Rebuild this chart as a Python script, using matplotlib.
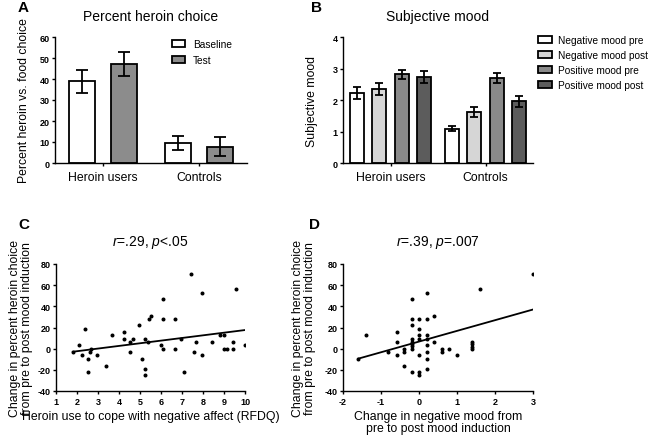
import numpy as np
import matplotlib
matplotlib.use("Agg")
import matplotlib.pyplot as plt
from matplotlib.patches import Patch

plt.rcParams['font.family'] = ['Liberation Sans', 'DejaVu Sans']
plt.rcParams['mathtext.fontset'] = 'custom'
plt.rcParams['mathtext.rm'] = 'Liberation Sans'
plt.rcParams['mathtext.it'] = 'Liberation Sans:italic'

# ---- data ----
groups = ['Heroin users', 'Controls']

# A: percent heroin choice
choice_labels = ['Baseline', 'Test']
choice_mean = [[39.0, 9.5], [47.0, 7.8]]
choice_err = [[5.5, 3.5], [5.8, 4.5]]
choice_colors = ['white', '#8c8c8c']

# B: subjective mood
mood_labels = ['Negative mood pre', 'Negative mood post', 'Positive mood pre', 'Positive mood post']
mood_mean = [[2.22, 1.09], [2.34, 1.62], [2.81, 2.70], [2.74, 1.96]]
mood_err = [[0.18, 0.08], [0.19, 0.17], [0.14, 0.17], [0.19, 0.18]]
mood_colors = ['white', '#d6d6d6', '#8a8a8a', '#5c5c5c']

# C: RFDQ vs change in heroin choice
rfdq = [1.8, 2.08, 2.24, 2.38, 2.5, 2.5, 2.64, 2.67, 2.96, 3.39, 3.68, 4.23, 4.23, 4.53,
        4.53, 4.66, 4.95, 5.09, 5.25, 5.25, 5.25, 5.38, 5.41, 5.54, 5.98, 6.1, 6.1, 6.1,
        6.68, 6.68, 6.97, 7.1, 7.42, 7.56, 7.69, 7.97, 7.97, 8.42, 8.83, 8.99, 8.99, 9.15,
        9.44, 9.44, 9.58, 10.0]
change_c = [-3, 3, -6, 18.6, -9.5, -22, -3, 0, -6, -16, 12.6, 15.8, 9.5, 6.3,
            -3, 9.5, 22, -9.5, 9.5, -19, -25, 6.3, 28, 31, 3, 0, 28, 47,
            28, 0, 9.5, -22, 71, -3, 6.3, 53, -6, 6.3, 12.6, 12.6, 0, 0,
            6.3, 0, 56, 3]
fit_c = (2.5, -7.4)  # slope, intercept

# D: change in negative mood vs change in heroin choice
mood_change = [-1.6, -1.39, -0.82, -0.59, -0.59, -0.59, -0.4, -0.4, -0.4, -0.19, -0.19,
               -0.19, -0.19, -0.19, -0.19, -0.19, -0.19, -0.19, 0, 0, 0, 0, 0, 0, 0,
               0.2, 0.2, 0.2, 0.2, 0.2, 0.2, 0.2, 0.2, 0.4, 0.4, 0.6, 0.6, 0.8, 1.0,
               1.4, 1.4, 1.4, 1.4, 1.6, 3.0]
change_d = [-9.5, 12.6, -3, 15.8, 6.3, -6, 0, -3, -16, 47, 28,
            22, 9.5, 6.3, 4, 2.5, 0, -22, 28, 18.6, 12.6, 9.5, -6, -22, -25,
            53, 28, 12.6, 9.5, 3, -3, -9.5, -19, 31, 6.3, 0, -3, 0, -6,
            6.3, 4, 2, 0, 56, 71]
fit_d = (10.1, 6.7)

# ---- layout ----
W, H = 651, 439
fig = plt.figure(figsize=(W / 100, H / 100), dpi=100)


def add_ax(l, t, r, b):
    return fig.add_axes([l / W, 1 - b / H, (r - l) / W, (b - t) / H])


def style(ax):
    for s in ['top', 'right']:
        ax.spines[s].set_visible(False)
    for s in ['left', 'bottom']:
        ax.spines[s].set_linewidth(1.0)
    ax.tick_params(direction='out', length=2.5, width=1.0, labelsize=6.5, pad=1.5)


tick_kw = dict(fontsize=6.5, fontweight='bold')
lab_fs = 8.8
title_fs = 10

# A
axA = add_ax(55, 38, 247, 164)
style(axA)
x = np.arange(len(groups))
offs = [-0.215, 0.215]
for i, lab in enumerate(choice_labels):
    axA.bar(x + offs[i], choice_mean[i], 0.27, color=choice_colors[i], edgecolor='black',
            linewidth=1.3, label=lab, zorder=2)
    axA.errorbar(x + offs[i], choice_mean[i], yerr=choice_err[i], fmt='none', ecolor='black',
                 elinewidth=1.3, capsize=4, capthick=1.3, zorder=3)
axA.set_xlim(-0.5, 1.5)
axA.set_ylim(0, 60)
axA.set_yticks(np.arange(0, 61, 10))
axA.set_yticklabels([str(v) for v in range(0, 61, 10)], **tick_kw)
axA.set_xticks(x)
axA.set_xticklabels(groups, fontsize=lab_fs)
axA.tick_params(axis='x', pad=3)
axA.set_ylabel('Percent heroin vs. food choice', fontsize=lab_fs, labelpad=7)
axA.set_title('Percent heroin choice', fontsize=title_fs, pad=12)
axA.legend(handles=[Patch(facecolor=c, edgecolor='black', linewidth=1.3) for c in choice_colors],
           labels=choice_labels, loc='upper left', bbox_to_anchor=(172 / W, 1 - 40 / H),
           bbox_transform=fig.transFigure, frameon=False, fontsize=7.3, borderpad=0,
           borderaxespad=0, handlelength=1.25, handleheight=0.7, handletextpad=0.8,
           labelspacing=0.6)

# B
axB = add_ax(343, 38, 533, 164)
style(axB)
moffs = [-0.35, -0.117, 0.117, 0.35]
for i, lab in enumerate(mood_labels):
    axB.bar(x + moffs[i], mood_mean[i], 0.148, color=mood_colors[i], edgecolor='black',
            linewidth=1.3, label=lab, zorder=2)
    axB.errorbar(x + moffs[i], mood_mean[i], yerr=mood_err[i], fmt='none', ecolor='black',
                 elinewidth=1.3, capsize=3, capthick=1.3, zorder=3)
axB.set_xlim(-0.5, 1.5)
axB.set_ylim(0, 4)
axB.set_yticks(np.arange(0, 5, 1))
axB.set_yticklabels([str(v) for v in range(0, 5)], **tick_kw)
axB.set_xticks(x)
axB.set_xticklabels(groups, fontsize=lab_fs)
axB.tick_params(axis='x', pad=3)
axB.set_ylabel('Subjective mood', fontsize=lab_fs, labelpad=10)
axB.set_title('Subjective mood', fontsize=title_fs, pad=12)
axB.legend(handles=[Patch(facecolor=c, edgecolor='black', linewidth=1.3) for c in mood_colors],
           labels=mood_labels, loc='upper left', bbox_to_anchor=(538 / W, 1 - 36 / H),
           bbox_transform=fig.transFigure, frameon=False, fontsize=7.3, borderpad=0,
           borderaxespad=0, handlelength=1.4, handleheight=0.7, handletextpad=0.6,
           labelspacing=0.5)

# C
axC = add_ax(56, 265, 245, 392)
style(axC)
axC.scatter(rfdq, change_c, s=3.5, color='black', zorder=3)
xc = np.array([min(rfdq), max(rfdq)])
axC.plot(xc, fit_c[0] * xc + fit_c[1], color='black', linewidth=1.3)
axC.set_xlim(1, 10)
axC.set_ylim(-40, 80)
axC.set_xticks(range(1, 11))
axC.set_xticklabels([str(v) for v in range(1, 11)], **tick_kw)
axC.set_yticks(range(-40, 81, 20))
axC.set_yticklabels([str(v) for v in range(-40, 81, 20)], **tick_kw)
axC.set_xlabel('Heroin use to cope with negative affect (RFDQ)', fontsize=lab_fs, labelpad=3)
axC.set_ylabel('Change in percent heroin choice\nfrom pre to post mood induction',
               fontsize=lab_fs, labelpad=3, linespacing=1.05)
axC.set_title(r'$\it{r}$=.29, $\it{p}$<.05', fontsize=title_fs, pad=14)

# D
axD = add_ax(343, 265, 533, 392)
style(axD)
axD.scatter(mood_change, change_d, s=3.5, color='black', zorder=3)
xd = np.array([min(mood_change), max(mood_change)])
axD.plot(xd, fit_d[0] * xd + fit_d[1], color='black', linewidth=1.3)
axD.set_xlim(-2, 3)
axD.set_ylim(-40, 80)
axD.set_xticks(range(-2, 4))
axD.set_xticklabels([str(v) for v in range(-2, 4)], **tick_kw)
axD.set_yticks(range(-40, 81, 20))
axD.set_yticklabels([str(v) for v in range(-40, 81, 20)], **tick_kw)
axD.set_xlabel('Change in negative mood from\npre to post mood induction', fontsize=lab_fs,
               labelpad=3, linespacing=1.05)
axD.set_ylabel('Change in percent heroin choice\nfrom pre to post mood induction',
               fontsize=lab_fs, labelpad=6, linespacing=1.05)
axD.set_title(r'$\it{r}$=.39, $\it{p}$=.007', fontsize=title_fs, pad=14)

# panel letters
for letter, px, py in [('A', 18, 12), ('B', 311, 12), ('C', 18, 229), ('D', 309, 229)]:
    fig.text(px / W, 1 - py / H, letter, fontsize=11, fontweight='bold', va='baseline')

fig.savefig('out.png', dpi=100)
